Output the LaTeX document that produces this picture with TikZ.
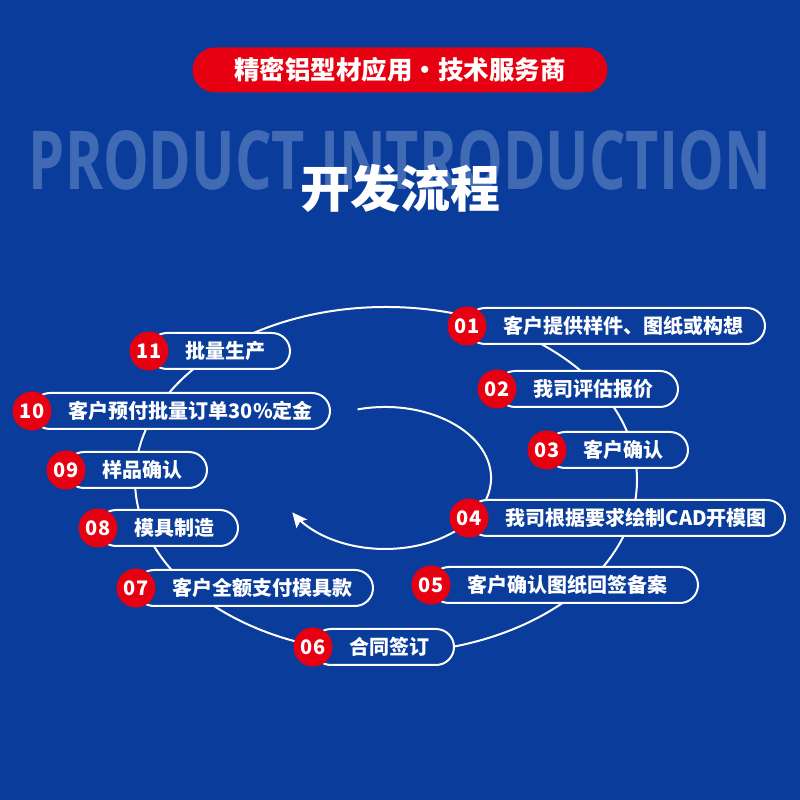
\documentclass[tikz,border=0pt]{standalone}
\usepackage{fontspec}
\setmainfont{Noto Sans CJK SC}
\newfontfamily\prodfont{Open Sans}
\usetikzlibrary{arrows.meta}
\definecolor{bg}{HTML}{0A3C9C}
\definecolor{myred}{HTML}{E60012}
\definecolor{faint}{HTML}{416AB5}
\newcommand\flowstep[5]{%
  \node[pillbox, minimum width={(#4-#2)*1pt}, anchor=west] (p#1) at (#2,{800-#3}) {};
  \node[numdot] (n#1) at (#2,{800-#3}) {#1};
  \node[pilltext] (t#1) at ({#2+36.5},{800-#3}) {#5};
}
\begin{document}
\begin{tikzpicture}[x=1pt,y=1pt,
  stepline/.style={white, line width=2pt},
  pillbox/.style={draw=white, line width=2pt, fill=bg, rounded corners=18pt, minimum height=36pt, inner sep=0pt, outer sep=0pt},
  numdot/.style={circle, fill=myred, minimum size=39pt, inner sep=0pt, text=white, font=\fontsize{20}{20}\selectfont\bfseries},
  pilltext/.style={anchor=west, inner sep=0pt, text=white, font=\fontsize{20}{20}\selectfont\bfseries}]
\useasboundingbox (0,0) rectangle (800,800);
\fill[bg] (0,0) rectangle (800,800);
\node[text=faint, inner sep=0pt] (prod) at (400,640) {\resizebox{742pt}{59pt}{\prodfont\bfseries PRODUCT INTRODUCTION}};
\node[fill=myred, rounded corners=22.5pt, minimum width=415pt, minimum height=45pt, inner sep=0pt, text=white, font=\fontsize{25.5}{25.5}\selectfont\bfseries] (banner) at (400,730) {精密铝型材应用·技术服务商};
\node[text=white, inner sep=0pt, font=\fontsize{50}{50}\selectfont\bfseries] (title) at (400,612) {开发流程};
\draw[stepline] (386,320) ellipse [x radius=251, y radius=173];
% return arrow
\coordinate (arcstart) at (357.6,390.6);
\coordinate (tipT) at (292.3,287.6);
\coordinate (tipA) at (307.3,280.5);
\coordinate (tipB) at (300.0,278.4);
\coordinate (tipC) at (296.5,271.6);
\draw[stepline] (arcstart) arc[start angle=105, end angle=-146, x radius=106, y radius=71];
\fill[white] (tipT) -- (tipA) -- (tipB) -- (tipC) -- cycle;
\flowstep{01}{467}{326}{765}{客户提供样件、图纸或构想}
\flowstep{02}{497}{389}{678}{我司评估报价}
\flowstep{03}{547}{450}{688}{客户确认}
\flowstep{04}{469}{518}{785}{我司根据要求绘制CAD开模图}
\flowstep{05}{431}{585}{698}{客户确认图纸回签备案}
\flowstep{06}{313}{647}{454}{合同签订}
\flowstep{07}{136}{588}{373}{客户全额支付模具款}
\flowstep{08}{98}{528}{238}{模具制造}
\flowstep{09}{66}{470}{207}{样品确认}
\flowstep{10}{32}{411}{330}{客户预付批量订单30\%定金}
\flowstep{11}{149}{351}{290}{批量生产}
\end{tikzpicture}
\end{document}
